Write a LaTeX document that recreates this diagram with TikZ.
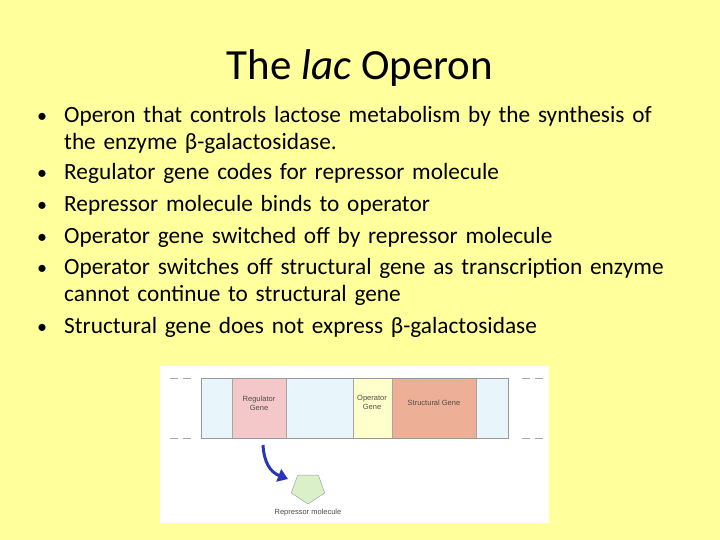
\documentclass[tikz,border=0pt]{standalone}
\usepackage{fontspec}
\setmainfont{Carlito}
\newfontfamily\dv{Liberation Sans}
\usetikzlibrary{arrows.meta,shapes.geometric}
\definecolor{bg}{HTML}{FFFF9C}
\definecolor{lb}{HTML}{E8F5FB}
\definecolor{pk}{HTML}{F4C7C9}
\definecolor{yl}{HTML}{FFFFCC}
\definecolor{sa}{HTML}{EDB096}
\definecolor{gr}{HTML}{DAF0C9}
\definecolor{ar}{HTML}{2A35B8}
\newcommand{\bb}{\makebox[27pt][l]{\fontsize{20}{20}\selectfont •}}
\begin{document}
\begin{tikzpicture}[x=1pt,y=-1pt,
  bul/.style={anchor=north west,inner sep=0,font=\fontsize{23.3}{27}\selectfont,text width=660pt,align=left},
  seg/.style={draw=gray!80,line width=0.6pt},
  lbl/.style={font=\dv\fontsize{7.5}{9}\selectfont,text=black!70,align=center,inner sep=0}]
\fill[bg] (0,0) rectangle (720,540);
\useasboundingbox (0,0) rectangle (720,540);
\node[font=\fontsize{43}{46}\selectfont] (title) at (360,68) {The \textit{lac} Operon};
\node[bul] (b1) at (37,106) {\bb Operon that controls lactose metabolism by the synthesis of\\\hspace{27pt}the enzyme β-galactosidase.};
\node[bul] (b2) at (37,163) {\bb Regulator gene codes for repressor molecule};
\node[bul] (b3) at (37,195) {\bb Repressor molecule binds to operator};
\node[bul] (b4) at (37,227) {\bb Operator gene switched off by repressor molecule};
\node[bul] (b5) at (37,258) {\bb Operator switches off structural gene as transcription enzyme\\\hspace{27pt}cannot continue to structural gene};
\node[bul] (b6) at (37,317) {\bb Structural gene does not express β-galactosidase};
% diagram
\fill[white] (160,366) rectangle (549,523);
\fill[lb] (201,378) rectangle (508,438);
\fill[pk] (232,378) rectangle (286,438);
\fill[yl] (353,378) rectangle (392,438);
\fill[sa] (392,378) rectangle (476,438);
\draw[gray!70,line width=0.4pt] (232,378)--(232,438) (286,378)--(286,438) (353,378)--(353,438) (392,378)--(392,438) (476,378)--(476,438);
\draw[seg] (201,378) rectangle (508,438);
\draw[gray!70,line width=0.6pt,dash pattern=on 8pt off 5pt] (170,378)--(193,378) (170,438)--(193,438) (522,378)--(546,378) (522,438)--(546,438);
\node[lbl] (rg) at (259,403) {Regulator\\Gene};
\node[lbl] (og) at (372,402) {Operator\\Gene};
\node[lbl] (sg) at (434,403) {Structural Gene};
\node[draw=gray!80,fill=gr,regular polygon,regular polygon sides=5,shape border rotate=180,minimum size=32pt,inner sep=0,xscale=1.1] (rm) at (308,488) {};
\node[lbl] (rt) at (308,513) {Repressor molecule};
\draw[ar,line width=3pt,-{Triangle[length=10pt,width=13pt]}] (263,445) .. controls (264,462) and (270,472) .. (288,479);
\end{tikzpicture}
\end{document}
